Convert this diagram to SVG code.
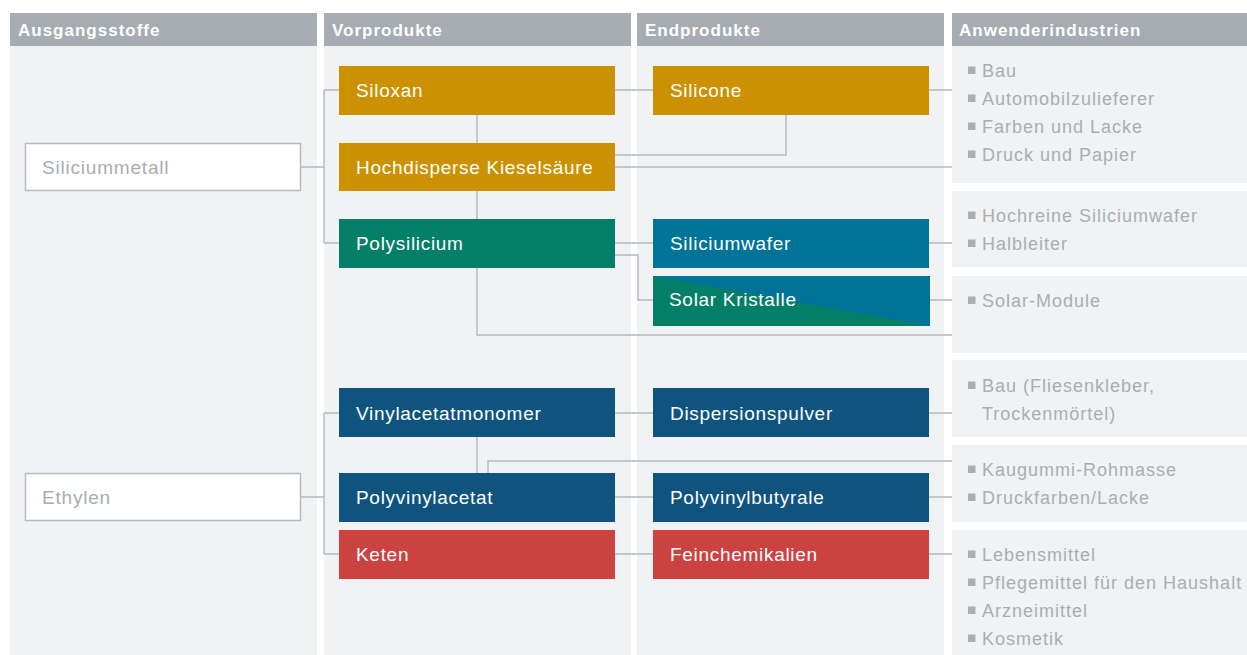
<svg xmlns="http://www.w3.org/2000/svg" width="1247" height="655" viewBox="0 0 1247 655">
<style>
.bg{fill:#f0f2f4}
.hd{fill:#a6acb1}
.ht{font-family:"Liberation Sans",Arial,sans-serif;font-size:17px;font-weight:bold;fill:#ffffff;letter-spacing:1px}
.nt{font-family:"Liberation Sans",Arial,sans-serif;font-size:19px;fill:#ffffff;letter-spacing:0.7px}
.st{font-family:"Liberation Sans",Arial,sans-serif;font-size:19px;fill:#a8adb2;letter-spacing:0.8px}
.rt{font-family:"Liberation Sans",Arial,sans-serif;font-size:18px;fill:#a9aeb3;letter-spacing:1px}
.bu{fill:#a9aeb3}
.src{fill:#ffffff;stroke:#b6babe;stroke-width:1.5}
.gold{fill:#cc9100}
.green{fill:#047f67}
.blue{fill:#007398}
.dblue{fill:#0f547e}
.red{fill:#cb4241}
.con{fill:none;stroke:#b4b8bc;stroke-width:1.4}
</style>

<g id="columns">
  <rect class="hd" x="10" y="13" width="307" height="33"/>
  <rect class="bg" x="10" y="46" width="307" height="609"/>
  <text class="ht" x="18" y="36">Ausgangsstoffe</text>
  <rect class="hd" x="324" y="13" width="307" height="33"/>
  <rect class="bg" x="324" y="46" width="307" height="609"/>
  <text class="ht" x="332" y="36">Vorprodukte</text>
  <rect class="hd" x="637" y="13" width="307" height="33"/>
  <rect class="bg" x="637" y="46" width="307" height="609"/>
  <text class="ht" x="645" y="36">Endprodukte</text>
  <rect class="hd" x="952" y="13" width="295" height="33"/>
  <text class="ht" x="959" y="36">Anwenderindustrien</text>
</g>

<g id="connectors">
  <path class="con" d="M301,167 H324 M324,90 V243 M324,90 H339 M324,243 H339"/>
  <path class="con" d="M477,115 V143 M477,191 V219"/>
  <path class="con" d="M615,90 H653 M929,90 H952"/>
  <path class="con" d="M786,115 V155 H615"/>
  <path class="con" d="M615,167 H952"/>
  <path class="con" d="M615,243 H653 M929,243 H952"/>
  <path class="con" d="M615,255 H638 V300 H653 M930,300 H952"/>
  <path class="con" d="M477,268 V335 H952"/>
  <path class="con" d="M301,497 H324 M324,413 V554 M324,413 H339 M324,554 H339"/>
  <path class="con" d="M477,437 V473"/>
  <path class="con" d="M488,473 V461 H952"/>
  <path class="con" d="M615,413 H653 M929,413 H952"/>
  <path class="con" d="M615,497 H653 M929,497 H952"/>
  <path class="con" d="M615,554 H653 M929,554 H952"/>
</g>

<g id="n-siliciummetall">
  <rect class="src" x="25.5" y="143.5" width="275" height="47"/>
  <text class="st" x="42" y="174">Siliciummetall</text>
</g>
<g id="n-ethylen">
  <rect class="src" x="25.5" y="473.5" width="275" height="47"/>
  <text class="st" x="42" y="504">Ethylen</text>
</g>

<g id="n-siloxan">
  <rect class="gold" x="339" y="66" width="276" height="49"/>
  <text class="nt" x="356" y="97">Siloxan</text>
</g>
<g id="n-kieselsaeure">
  <rect class="gold" x="339" y="143" width="276" height="48"/>
  <text class="nt" x="356" y="174">Hochdisperse Kieselsäure</text>
</g>
<g id="n-polysilicium">
  <rect class="green" x="339" y="219" width="276" height="49"/>
  <text class="nt" x="356" y="250">Polysilicium</text>
</g>
<g id="n-vinylacetatmonomer">
  <rect class="dblue" x="339" y="388" width="276" height="49"/>
  <text class="nt" x="356" y="420">Vinylacetatmonomer</text>
</g>
<g id="n-polyvinylacetat">
  <rect class="dblue" x="339" y="473" width="276" height="49"/>
  <text class="nt" x="356" y="504">Polyvinylacetat</text>
</g>
<g id="n-keten">
  <rect class="red" x="339" y="530" width="276" height="49"/>
  <text class="nt" x="356" y="561">Keten</text>
</g>

<g id="n-silicone">
  <rect class="gold" x="653" y="66" width="276" height="49"/>
  <text class="nt" x="670" y="97">Silicone</text>
</g>
<g id="n-siliciumwafer">
  <rect class="blue" x="653" y="219" width="276" height="49"/>
  <text class="nt" x="670" y="250">Siliciumwafer</text>
</g>
<g id="n-solarkristalle">
  <rect class="blue" x="653" y="276" width="277" height="50"/>
  <polygon class="green" points="653,276 930,326 653,326"/>
  <text class="nt" x="669" y="306">Solar Kristalle</text>
</g>
<g id="n-dispersionspulver">
  <rect class="dblue" x="653" y="388" width="276" height="49"/>
  <text class="nt" x="670" y="420">Dispersionspulver</text>
</g>
<g id="n-polyvinylbutyrale">
  <rect class="dblue" x="653" y="473" width="276" height="49"/>
  <text class="nt" x="670" y="504">Polyvinylbutyrale</text>
</g>
<g id="n-feinchemikalien">
  <rect class="red" x="653" y="530" width="276" height="49"/>
  <text class="nt" x="670" y="561">Feinchemikalien</text>
</g>

<g id="i-silicone">
  <rect class="bg" x="952" y="46" width="295" height="137"/>
  <rect class="bu" x="968" y="66.5" width="7.5" height="7.5"/><text class="rt" x="982" y="77">Bau</text>
  <rect class="bu" x="968" y="94.5" width="7.5" height="7.5"/><text class="rt" x="982" y="105">Automobilzulieferer</text>
  <rect class="bu" x="968" y="122.5" width="7.5" height="7.5"/><text class="rt" x="982" y="133">Farben und Lacke</text>
  <rect class="bu" x="968" y="150.5" width="7.5" height="7.5"/><text class="rt" x="982" y="161">Druck und Papier</text>
</g>
<g id="i-wafer">
  <rect class="bg" x="952" y="191" width="295" height="76"/>
  <rect class="bu" x="968" y="211.5" width="7.5" height="7.5"/><text class="rt" x="982" y="222">Hochreine Siliciumwafer</text>
  <rect class="bu" x="968" y="239.5" width="7.5" height="7.5"/><text class="rt" x="982" y="250">Halbleiter</text>
</g>
<g id="i-solar">
  <rect class="bg" x="952" y="276" width="295" height="77"/>
  <rect class="bu" x="968" y="296.5" width="7.5" height="7.5"/><text class="rt" x="982" y="307">Solar-Module</text>
</g>
<g id="i-dispersion">
  <rect class="bg" x="952" y="360" width="295" height="77"/>
  <rect class="bu" x="968" y="381.5" width="7.5" height="7.5"/><text class="rt" x="982" y="392">Bau (Fliesenkleber,</text>
  <text class="rt" x="982" y="420">Trockenmörtel)</text>
</g>
<g id="i-pvb">
  <rect class="bg" x="952" y="445" width="295" height="77"/>
  <rect class="bu" x="968" y="465.5" width="7.5" height="7.5"/><text class="rt" x="982" y="476">Kaugummi-Rohmasse</text>
  <rect class="bu" x="968" y="493.5" width="7.5" height="7.5"/><text class="rt" x="982" y="504">Druckfarben/Lacke</text>
</g>
<g id="i-fein">
  <rect class="bg" x="952" y="530" width="295" height="125"/>
  <rect class="bu" x="968" y="550.5" width="7.5" height="7.5"/><text class="rt" x="982" y="561">Lebensmittel</text>
  <rect class="bu" x="968" y="578.5" width="7.5" height="7.5"/><text class="rt" x="982" y="589">Pflegemittel für den Haushalt</text>
  <rect class="bu" x="968" y="606.5" width="7.5" height="7.5"/><text class="rt" x="982" y="617">Arzneimittel</text>
  <rect class="bu" x="968" y="634.5" width="7.5" height="7.5"/><text class="rt" x="982" y="645">Kosmetik</text>
</g>
</svg>
